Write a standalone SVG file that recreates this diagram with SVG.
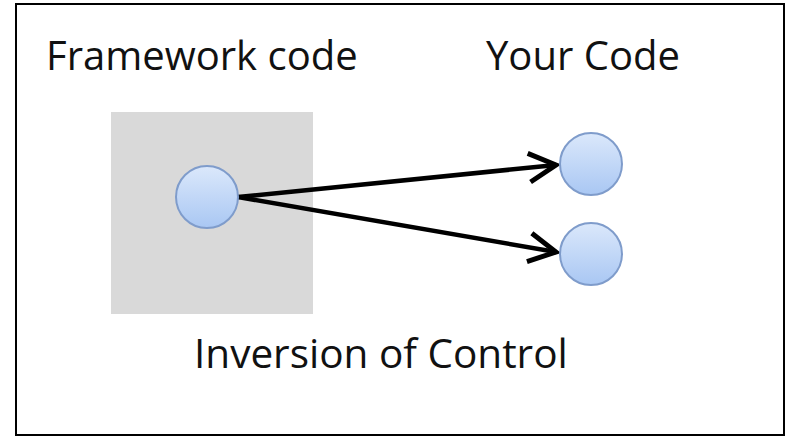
<svg xmlns="http://www.w3.org/2000/svg" width="794" height="438" viewBox="0 0 794 438">
<style>
.lbl{font-family:"Open Sans","Noto Sans",sans-serif;font-size:40px;fill:#111}
.node{fill:url(#g);stroke:#7f9ccb;stroke-width:2}
.conn{stroke:#000;stroke-width:4.5;fill:none;marker-end:url(#ah)}
</style>
<defs>
<linearGradient id="g" x1="0" y1="0" x2="0" y2="1">
<stop offset="0" stop-color="#dbe8fb"/>
<stop offset="1" stop-color="#a9c7f3"/>
</linearGradient>
<marker id="ah" markerWidth="8" markerHeight="8" viewBox="0 0 8 8" refX="7" refY="4" orient="auto" markerUnits="strokeWidth">
<path d="M1,0.8 L7,4 L1,7.2" fill="none" stroke="#000" stroke-width="1.1" stroke-linejoin="miter"/>
</marker>
</defs>
<rect x="16" y="4" width="768" height="431" fill="#fff" stroke="#000" stroke-width="2"/>
<text class="lbl" x="46" y="70">Framework code</text>
<text class="lbl" x="486" y="70">Your Code</text>
<text class="lbl" x="194" y="368" style="font-size:40.5px">Inversion of Control</text>
<rect id="framework" x="111" y="112" width="202" height="202" fill="#d9d9d9"/>
<g id="connectors">
<line class="conn" x1="238" y1="197" x2="556" y2="165"/>
<line class="conn" x1="238" y1="197" x2="556" y2="252"/>
</g>
<g id="n1"><circle class="node" cx="207" cy="197" r="31"/></g>
<g id="n2"><circle class="node" cx="591" cy="164" r="31"/></g>
<g id="n3"><circle class="node" cx="591" cy="254" r="31"/></g>
</svg>
